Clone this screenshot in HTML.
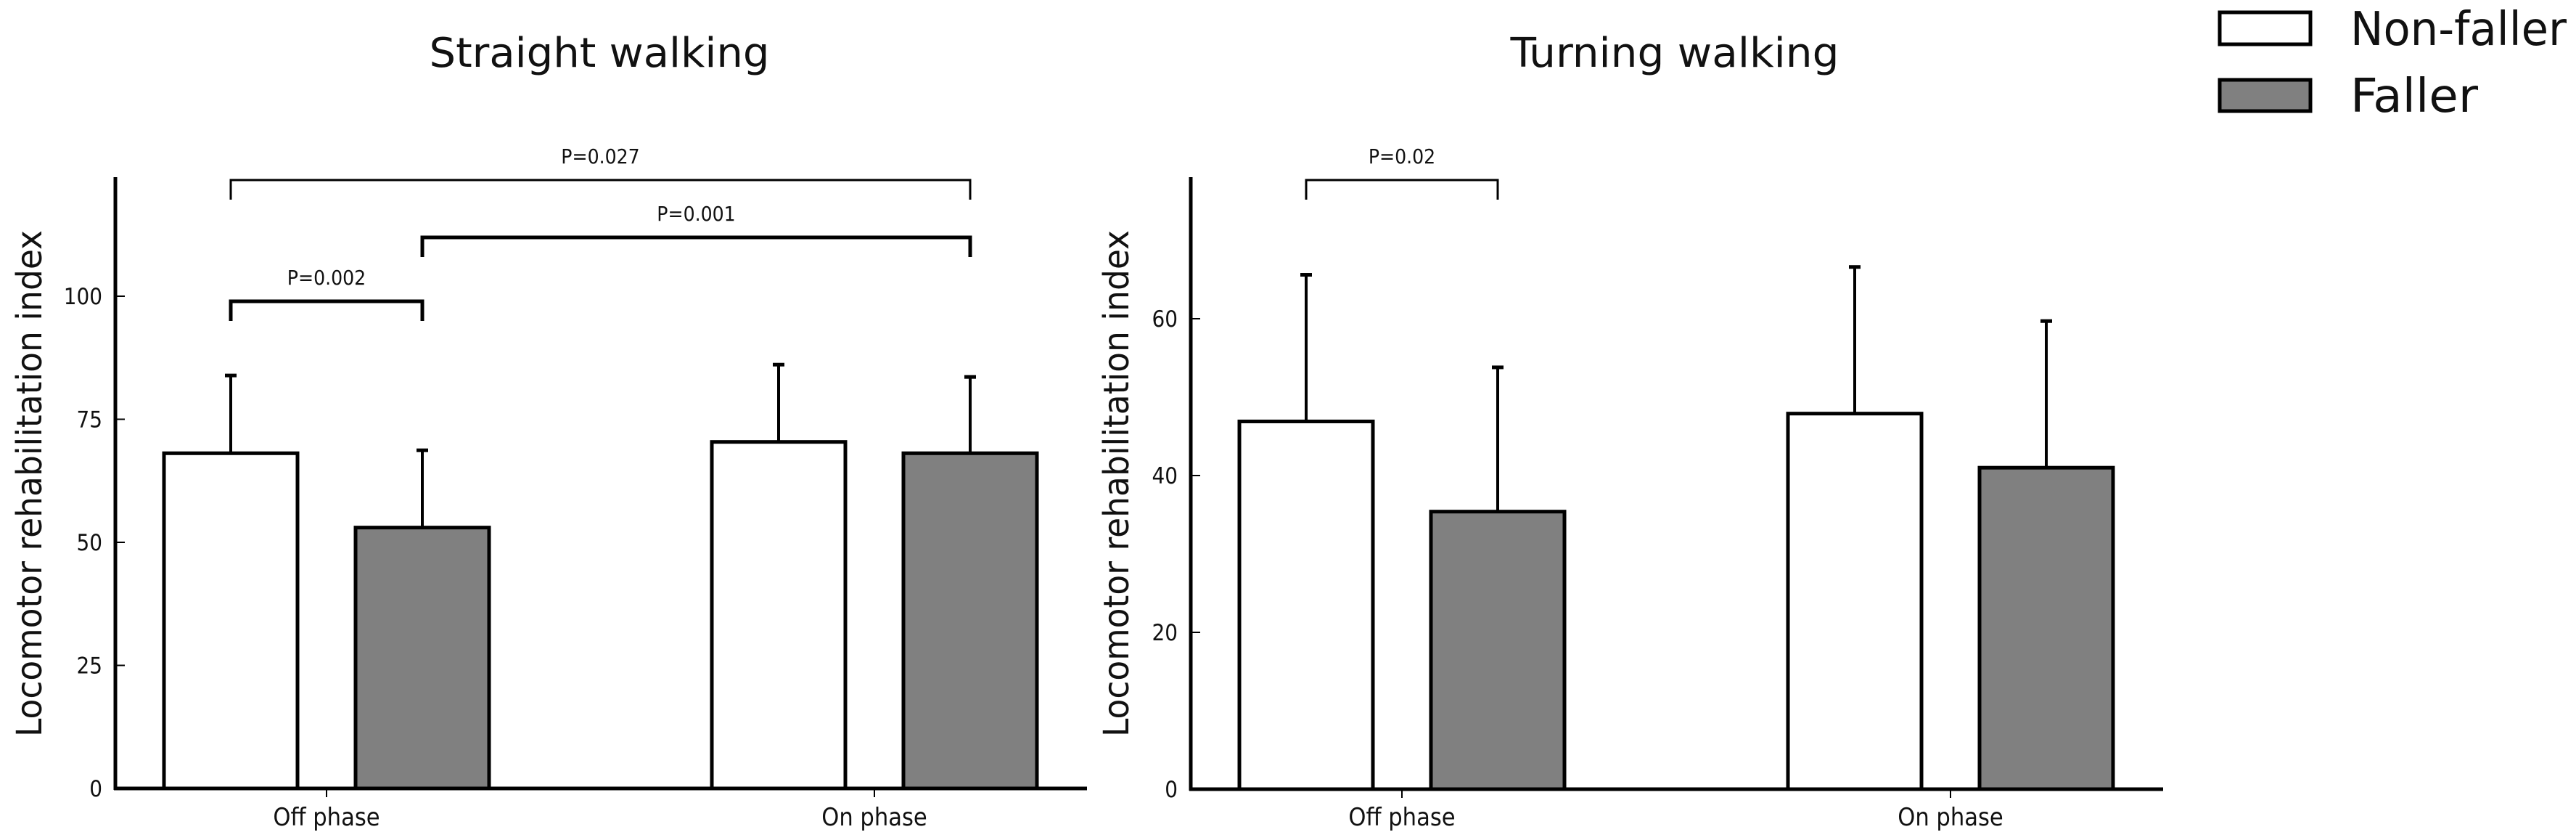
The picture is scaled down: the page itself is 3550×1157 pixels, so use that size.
<!DOCTYPE html>
<html><head><meta charset="utf-8"><style>
html,body{margin:0;padding:0;background:#fff;}
svg{display:block;}
text{font-family:"DejaVu Sans Condensed","DejaVu Sans","Liberation Sans",sans-serif;fill:#111;}
</style></head><body>
<svg id="chart" width="3550" height="1157" viewBox="0 0 3550 1157" xmlns="http://www.w3.org/2000/svg">
<g id="p1"></g>
<g id="p2"></g>
<g>
  <g>
    <rect x="3059" y="17" width="125" height="44" fill="#fff" stroke="#000" stroke-width="5"/>
    <text x="3239" y="62" font-size="64" textLength="298" lengthAdjust="spacingAndGlyphs">Non-faller</text>
  </g>
  <g>
    <rect x="3059" y="110" width="125" height="43" fill="#808080" stroke="#000" stroke-width="5"/>
    <text x="3239" y="154" font-size="64" textLength="176" lengthAdjust="spacingAndGlyphs">Faller</text>
  </g>
</g>
</svg>
<script>
const categories = ["Off phase", "On phase"];
const straightNonFaller = [68.1, 70.4];
const straightNonFallerSD = [15.8, 15.7];
const straightFaller = [53.0, 68.1];
const straightFallerSD = [15.7, 15.5];
const straightTicks = [0, 25, 50, 75, 100];
const turningNonFaller = [46.9, 47.9];
const turningNonFallerSD = [18.7, 18.7];
const turningFaller = [35.4, 41.0];
const turningFallerSD = [18.4, 18.7];
const turningTicks = [0, 20, 40, 60];
const straightPLabels = ["P=0.027", "P=0.001", "P=0.002"];
const turningPLabels = ["P=0.02"];

const NS = "http://www.w3.org/2000/svg";
function mk(parent, tag, attrs) {
  const e = document.createElementNS(NS, tag);
  for (const k in attrs) e.setAttribute(k, attrs[k]);
  parent.appendChild(e);
  return e;
}

function panel(g, cfg) {
  const y = v => cfg.y0 - v * cfg.pxPerUnit;
  const x = (ci, si) => cfg.groupCenters[ci] + (si === 0 ? -cfg.offset : cfg.offset);
  const title = mk(g, "text", {x: cfg.titleX, y: 92, "font-size": 56, "text-anchor": "middle", textLength: cfg.titleLen, lengthAdjust: "spacingAndGlyphs"});
  title.textContent = cfg.title;
  
  
  const yl = mk(g, "text", {x: 0, y: 0, "font-size": 48, "text-anchor": "middle", textLength: 698, lengthAdjust: "spacingAndGlyphs", transform: `translate(${cfg.ylabX},666) rotate(-90)`, "dominant-baseline": "central"});
  yl.textContent = "Locomotor rehabilitation index";
  
  
  cfg.ticks.forEach(t => {
    const tl = mk(g, "line", {x1: cfg.ax, x2: cfg.ax + 13, y1: y(t), y2: y(t), stroke: "#000", "stroke-width": 2});
    
    
    const tx = mk(g, "text", {x: cfg.ax - 18, y: y(t) + 11, "font-size": 31, "text-anchor": "end"});
    tx.textContent = String(t);
    
    
  });
  const series = [[cfg.nf, cfg.nfsd, "#fff", "non-faller"], [cfg.f, cfg.fsd, "#808080", "faller"]];
  categories.forEach((c, ci) => {
    series.forEach((s, si) => {
      const cx = x(ci, si), v = s[0][ci], sd = s[1][ci];
      const el = mk(g, "line", {x1: cx, x2: cx, y1: y(v), y2: y(v + sd), stroke: "#000", "stroke-width": 4});
      
      
      const cap = mk(g, "line", {x1: cx - 8, x2: cx + 8, y1: y(v + sd), y2: y(v + sd), stroke: "#000", "stroke-width": 5});
      
      
      const r = mk(g, "rect", {x: cx - cfg.bw / 2, y: y(v), width: cfg.bw, height: y(0) - y(v), fill: s[2], stroke: "#000", "stroke-width": 5});
      
      
    });
    const xt = mk(g, "line", {x1: cfg.groupCenters[ci], x2: cfg.groupCenters[ci], y1: cfg.y0, y2: cfg.y0 + 12, stroke: "#000", "stroke-width": 2});
    
    
    const xl = mk(g, "text", {x: cfg.groupCenters[ci], y: 1137, "font-size": 34, "text-anchor": "middle"});
    xl.textContent = c;
    
    
  });
  const yaxis = mk(g, "line", {x1: cfg.ax, x2: cfg.ax, y1: 244, y2: cfg.y0 + 2, stroke: "#000", "stroke-width": 5});
  
  
  const xaxis = mk(g, "line", {x1: cfg.ax - 2, x2: cfg.axEnd, y1: cfg.y0, y2: cfg.y0, stroke: "#000", "stroke-width": 5});
  
  
  cfg.brackets.forEach((b, i) => {
    const x1 = x(b[0], b[1]), x2 = x(b[2], b[3]);
    const p = mk(g, "path", {d: `M${x1},${b[4] + 27} V${b[4]} H${x2} V${b[4] + 27}`, fill: "none", stroke: "#000", "stroke-width": b[5]});
    
    
    const t = mk(g, "text", {x: (x1 + x2) / 2, y: b[4] - 23, "font-size": 28, "text-anchor": "middle"});
    t.textContent = cfg.plabels[i];
    
    
  });
}

panel(document.getElementById("p1"), {
  title: "Straight walking", titleX: 826, titleLen: 469, ylabX: 41,
  ax: 159, axEnd: 1498, y0: 1086, pxPerUnit: 6.78,
  groupCenters: [450, 1205], offset: 132, bw: 184,
  ticks: straightTicks, nf: straightNonFaller, nfsd: straightNonFallerSD, f: straightFaller, fsd: straightFallerSD,
  plabels: straightPLabels,
  brackets: [[0, 0, 1, 1, 248, 3], [0, 1, 1, 1, 327, 5], [0, 0, 0, 1, 415, 5]]
});
panel(document.getElementById("p2"), {
  title: "Turning walking", titleX: 2308, titleLen: 453, ylabX: 1539,
  ax: 1641, axEnd: 2981, y0: 1087, pxPerUnit: 10.8,
  groupCenters: [1932, 2688], offset: 132, bw: 184,
  ticks: turningTicks, nf: turningNonFaller, nfsd: turningNonFallerSD, f: turningFaller, fsd: turningFallerSD,
  plabels: turningPLabels,
  brackets: [[0, 0, 0, 1, 248, 3]]
});
</script>
</body></html>
